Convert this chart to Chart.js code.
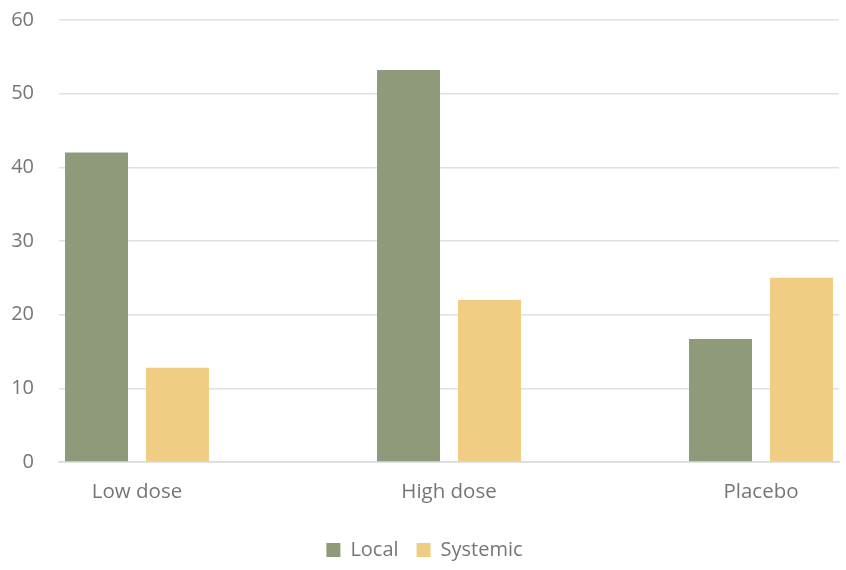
<!DOCTYPE html>
<html>
<head>
<meta charset="utf-8">
<script src="https://cdn.jsdelivr.net/npm/chart.js@4/dist/chart.umd.min.js"></script>
<style>
  html, body { margin: 0; padding: 0; background: #ffffff; }
  #wrap { width: 846px; height: 570px; }
</style>
</head>
<body>
<div id="wrap"><canvas id="c" width="846" height="570"></canvas></div>
<script>
const categories = ['Low dose', 'High dose', 'Placebo'];
const localValues = [42, 53.2, 16.7];
const systemicValues = [12.8, 22, 25];
const yTicks = [0, 10, 20, 30, 40, 50, 60];

const toPoints = (vals) => vals.map((v, i) => ({ x: i, y: v }));

Chart.defaults.font.family = '"Open Sans", sans-serif';
Chart.defaults.color = '#767676';

new Chart(document.getElementById('c'), {
  type: 'bar',
  data: {
    datasets: [
      { label: 'Local', data: toPoints(localValues), backgroundColor: '#8f9a7a', categoryPercentage: 0.519, barPercentage: 0.778 },
      { label: 'Systemic', data: toPoints(systemicValues), backgroundColor: '#f0cd82', categoryPercentage: 0.519, barPercentage: 0.778 }
    ]
  },
  options: {
    responsive: false,
    animation: false,
    layout: { padding: { left: 10, right: 7, top: 20, bottom: 0 } },
    plugins: {
      legend: {
        position: 'bottom',
        labels: { boxWidth: 14, boxHeight: 14, padding: 18, font: { size: 20 }, color: '#767676' }
      },
      tooltip: { enabled: false }
    },
    scales: {
      x: {
        type: 'linear',
        min: -0.25,
        max: 2.25,
        offset: false,
        afterBuildTicks: (scale) => { scale.ticks = categories.map((c, i) => ({ value: i })); },
        afterFit: (scale) => { scale.paddingLeft = 0; scale.paddingRight = 0; scale.height = 60; },
        ticks: {
          callback: (v) => categories[v] ?? '',
          font: { size: 20.5 },
          color: '#767676',
          padding: 10,
          maxRotation: 0,
          autoSkip: false
        },
        grid: { display: false },
        border: { display: true, color: '#d9d9d9', width: 1.5 }
      },
      y: {
        min: 0,
        max: 60,
        afterBuildTicks: (scale) => { scale.ticks = yTicks.map(v => ({ value: v })); },
        afterFit: (scale) => { scale.width = 49; scale.paddingTop = 0; scale.paddingBottom = 0; },
        ticks: { font: { size: 20 }, color: '#767676', padding: 25 },
        grid: { color: '#e0e0e0', lineWidth: 1.5, drawTicks: false },
        border: { display: false }
      }
    }
  }
});
</script>
</body>
</html>
